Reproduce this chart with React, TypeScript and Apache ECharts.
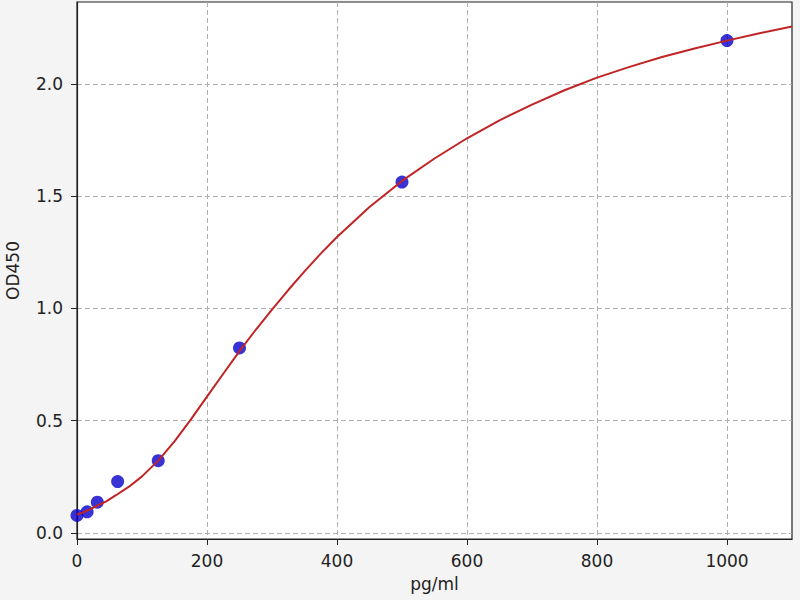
import React, { useEffect, useRef } from "react";
import * as echarts from "echarts";

const standardX = [0, 15.6, 31.25, 62.5, 125, 250, 500, 1000];
const standardOD = [0.078, 0.094, 0.137, 0.229, 0.322, 0.824, 1.563, 2.193];

const curveX = [0, 10, 20, 30, 45, 60, 80, 100, 125, 150, 175, 200, 225, 250, 275, 300, 325, 350, 375, 400, 450, 500, 550, 600, 650, 700, 750, 800, 850, 900, 950, 1000, 1050, 1100];
const curveY = [0.082, 0.092, 0.105, 0.12, 0.141, 0.168, 0.206, 0.252, 0.322, 0.408, 0.505, 0.607, 0.709, 0.81, 0.905, 0.995, 1.082, 1.165, 1.244, 1.318, 1.452, 1.568, 1.668, 1.758, 1.838, 1.908, 1.972, 2.028, 2.076, 2.12, 2.158, 2.193, 2.226, 2.256];

const xTicks = [0, 200, 400, 600, 800, 1000];
const yTicks = [0, 0.5, 1.0, 1.5, 2.0];

export default function App() {
  const ref = useRef<HTMLDivElement>(null);
  useEffect(() => {
    if (!ref.current) return;
    const chart = echarts.init(ref.current, null, { renderer: "svg" });
    const font = "DejaVu Sans";
    chart.setOption({
      animation: false,
      backgroundColor: "#f4f4f4",
      grid: {
        left: 77,
        right: 8,
        top: 2,
        bottom: 61,
        containLabel: false,
        outerBoundsMode: "none",
        show: true,
        backgroundColor: "#ffffff",
        borderColor: "#222222",
        borderWidth: 1.2,
      },
      xAxis: {
        type: "value",
        min: 0,
        max: 1100,
        name: "pg/ml",
        nameLocation: "middle",
        nameGap: 36,
        nameTextStyle: { fontFamily: font, fontSize: 17, color: "#222" },
        axisLine: { show: true, onZero: false, lineStyle: { color: "#222", width: 1.2 } },
        axisTick: { show: true, length: 6, customValues: xTicks, lineStyle: { color: "#222" } },
        axisLabel: {
          customValues: xTicks,
          margin: 13,
          fontFamily: font,
          fontSize: 17,
          color: "#222",
          formatter: (v: number) => String(v),
        },
        splitLine: { show: true, lineStyle: { color: "#b0b0b0", type: [5, 3], width: 1 } },
      },
      yAxis: {
        type: "value",
        min: -0.027,
        max: 2.365,
        name: "OD450",
        nameLocation: "middle",
        nameGap: 56,
        nameRotate: 90,
        nameTextStyle: { fontFamily: font, fontSize: 17, color: "#222" },
        axisLine: { show: true, onZero: false, lineStyle: { color: "#222", width: 1.2 } },
        axisTick: { show: true, length: 6, customValues: yTicks, lineStyle: { color: "#222" } },
        axisLabel: {
          customValues: yTicks,
          margin: 14,
          fontFamily: font,
          fontSize: 17,
          color: "#222",
          formatter: (v: number) => v.toFixed(1),
        },
        splitLine: { show: true, lineStyle: { color: "#b0b0b0", type: [5, 3], width: 1 } },
      },
      series: [
        {
          type: "scatter",
          data: standardX.map((x, i) => [x, standardOD[i]]),
          symbol: "circle",
          symbolSize: 13,
          itemStyle: { color: "#0800cc" },
          z: 2,
        },
        {
          type: "line",
          data: curveX.map((x, i) => [x, curveY[i]]),
          showSymbol: false,
          symbol: "none",
          smooth: false,
          lineStyle: { color: "#c02424", width: 2 },
          z: 3,
        },
      ],
    });
    return () => chart.dispose();
  }, []);
  return (
    <div
      ref={ref}
      style={{ position: "fixed", left: 0, top: 0, width: 800, height: 600 }}
    />
  );
}
